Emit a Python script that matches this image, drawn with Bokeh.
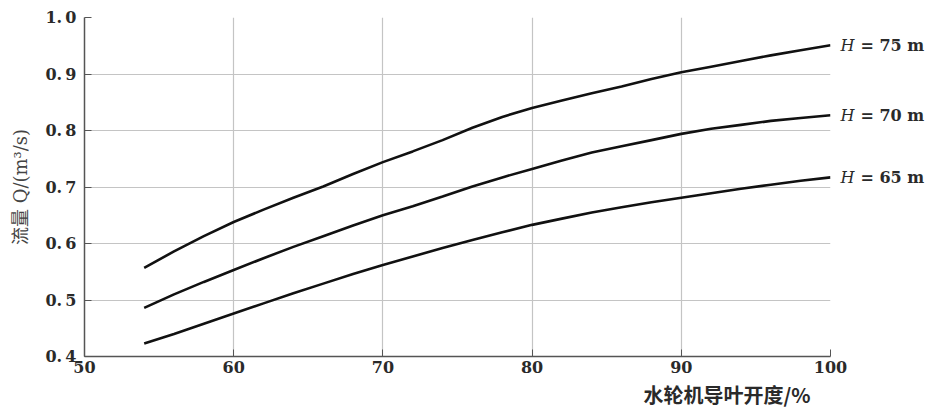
from bokeh.plotting import figure
from bokeh.models import FixedTicker, Range1d, LinearAxis, Title
from bokeh.embed import file_html
from bokeh.resources import INLINE

# ---- data ----
opening = [54, 56, 58, 60, 62, 64, 66, 68, 70, 72, 74, 76,
           78, 80, 82, 84, 86, 88, 90, 92, 94, 96, 98, 100]
q_h75 = [0.557, 0.586, 0.613, 0.638, 0.660, 0.681, 0.701, 0.723, 0.744, 0.763, 0.783, 0.805,
         0.824, 0.840, 0.853, 0.866, 0.878, 0.891, 0.903, 0.913, 0.923, 0.933, 0.942, 0.951]
q_h70 = [0.486, 0.510, 0.532, 0.553, 0.574, 0.594, 0.613, 0.632, 0.650, 0.666, 0.683, 0.701,
         0.717, 0.732, 0.747, 0.761, 0.772, 0.783, 0.794, 0.803, 0.810, 0.817, 0.822, 0.827]
q_h65 = [0.423, 0.440, 0.458, 0.476, 0.494, 0.512, 0.529, 0.546, 0.562, 0.577, 0.592, 0.606,
         0.620, 0.633, 0.644, 0.655, 0.664, 0.673, 0.681, 0.689, 0.697, 0.704, 0.711, 0.717]
head_labels = ["75", "70", "65"]
x_ticks = [50, 60, 70, 80, 90, 100]
y_ticks = [0.4, 0.5, 0.6, 0.7, 0.8, 0.9, 1.0]
y_tick_labels = ["0.\u20094", "0.\u20095", "0.\u20096", "0.\u20097", "0.\u20098", "0.\u20099", "1.\u20090"]
x_title = "水轮机导叶开度/%"
y_title = "流量 Q/(m³/s)"

SERIF = "DejaVu Serif, Noto Sans CJK SC"
CJK = "Noto Sans CJK SC"
TXT = "#2a2a2a"

yr = Range1d(0.4, 1.0)
p = figure(width=931, height=412, output_backend="svg", toolbar_location=None,
           x_range=Range1d(50, 100), y_range=yr,
           min_border_left=84, min_border_right=101, min_border_top=17, min_border_bottom=56)
p.outline_line_color = None
p.background_fill_color = "white"
p.border_fill_color = "white"

# axes
p.xaxis.ticker = FixedTicker(ticks=x_ticks)
p.yaxis.ticker = FixedTicker(ticks=y_ticks)
p.yaxis.major_label_overrides = {t: s for t, s in zip(y_ticks, y_tick_labels)}
for ax in (p.xaxis, p.yaxis):
    ax.axis_line_color = "#555555"
    ax.axis_line_width = 1.5
    ax.major_tick_in = 7
    ax.major_tick_out = 0
    ax.major_tick_line_color = "#555555"
    ax.minor_tick_line_color = None
    ax.major_label_text_font = SERIF
    ax.major_label_text_font_size = "16px"
    ax.major_label_text_font_style = "bold"
    ax.major_label_text_color = TXT
p.xaxis.major_label_standoff = 4
p.yaxis.major_label_standoff = 8
p.yaxis.axis_label = y_title
p.yaxis.axis_label_text_font = SERIF
p.yaxis.axis_label_text_font_size = "18px"
p.yaxis.axis_label_text_font_style = "normal"
p.yaxis.axis_label_text_color = "#444444"
p.yaxis.axis_label_standoff = 11

# grid
for g in (p.xgrid, p.ygrid):
    g.grid_line_color = "#c4c4c4"
    g.grid_line_width = 1.2
p.xgrid.ticker = FixedTicker(ticks=x_ticks)
p.ygrid.ticker = FixedTicker(ticks=y_ticks)

# curves
series = [q_h75, q_h70, q_h65]
for ys in series:
    p.line(opening, ys, line_color="#111111", line_width=2.6)

# curve labels at the right, placed through right-side axes at the curve end values
end_vals = [ys[-1] for ys in series]
ax_h = LinearAxis(ticker=FixedTicker(ticks=end_vals),
                  major_label_overrides={v: "H" for v in end_vals})
ax_v = LinearAxis(ticker=FixedTicker(ticks=end_vals),
                  major_label_overrides={v: "= " + h + " m" for v, h in zip(end_vals, head_labels)})
for ax in (ax_h, ax_v):
    ax.axis_line_color = None
    ax.major_tick_line_color = None
    ax.minor_tick_line_color = None
    ax.major_tick_in = 0
    ax.major_tick_out = 0
    ax.major_label_text_font = "DejaVu Serif"
    ax.major_label_text_font_size = "16px"
    ax.major_label_text_color = TXT
ax_h.major_label_text_font_style = "italic"
ax_h.major_label_standoff = 10
ax_v.major_label_text_font_style = "bold"
ax_v.major_label_standoff = 3
p.add_layout(ax_h, "right")
p.add_layout(ax_v, "right")

# x axis title, right-aligned below the axis
p.add_layout(Title(text=x_title, align="right", offset=20, standoff=4,
                   text_font=CJK, text_font_style="bold", text_font_size="20px",
                   text_color=TXT), "below")

open("out.html", "w").write(file_html(p, INLINE))
